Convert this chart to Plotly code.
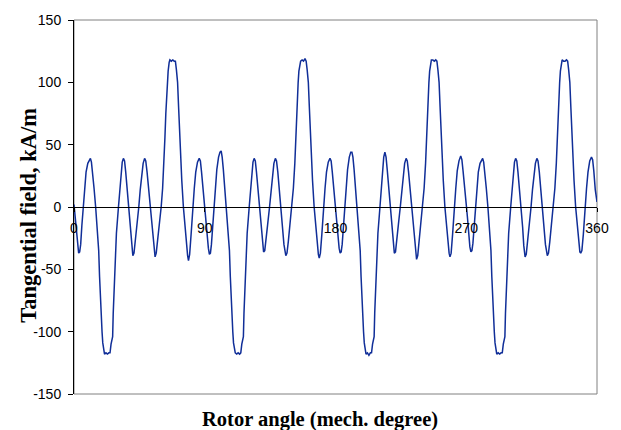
import plotly.graph_objects as go

# ---- Data (rotor angle in mech. degrees, field in kA/m) ----
angle_000_090 = [
    0, 0.8, 1.6, 2.5, 3.2, 3.9, 4.6, 5.4, 6.3,
    7.3, 8.3, 9.5, 10.5, 11.3, 12.0, 12.8, 13.8, 14.9,
    16.0, 17.0, 17.6, 18.2, 18.7, 19.3, 19.8, 20.5, 21.0, 22.0, 23.0, 24.0, 24.8, 25.5, 26.6, 27.0, 27.7, 28.5, 29.2, 30.6,
    31.5, 32.3, 33.2, 34.0, 34.8, 35.6, 36.6, 37.8,
    38.8, 39.6, 40.5, 41.3, 42.2, 43.3, 44.6,
    45.6, 46.6, 47.6, 48.6, 49.4, 50.3, 51.4, 52.5,
    53.5, 54.5, 55.8, 56.6, 57.5, 58.8, 60.0,
    61.0, 62.0, 62.6, 63.2, 63.7, 64.3, 64.8, 65.5, 66.0, 67.0, 68.0, 69.0, 69.8, 70.5, 71.3, 72.0, 72.7, 73.5, 74.2, 75.3,
    76.3, 77.3, 78.2, 78.8, 79.6, 80.6, 81.7,
    82.8, 83.8, 85.0, 86.2, 87.0, 87.8, 88.8,
]
field_000_090 = [
    2, -8, -22, -33, -37, -36, -30, -15, 0,
    15, 28, 35, 38, 39, 36, 28, 15, 0,
    -15, -35, -56, -75, -88, -100, -109, -116, -118, -117, -118, -117, -117, -110, -104, -85, -59, -38, -21, 0,
    15, 28, 36, 39, 37, 28, 15, 0,
    -16, -30, -39, -37, -28, -14, 0,
    14, 27, 35, 39, 37, 28, 14, 0,
    -15, -30, -40, -37, -28, -12, 0,
    15, 35, 56, 75, 88, 100, 109, 116, 118, 117, 118, 117, 117, 110, 100, 80, 59, 38, 21, 0,
    -15, -30, -39, -43, -38, -22, 0,
    15, 28, 36, 39, 37, 28, 14,
]

angle_090_180 = [
    90, 90.8, 91.6, 92.5, 93.2, 93.9, 94.6, 95.4, 96.3,
    97.3, 98.3, 99.5, 100.5, 101.3, 102.0, 102.8, 103.8, 104.9,
    106.0, 107.0, 107.6, 108.2, 108.7, 109.3, 109.8, 110.5, 111.0, 112.0, 113.0, 114.0, 114.8, 115.5, 116.6, 117.0, 117.7, 118.5, 119.2, 120.6,
    121.5, 122.3, 123.2, 124.0, 124.8, 125.6, 126.6, 127.8,
    128.8, 129.6, 130.5, 131.3, 132.2, 133.3, 134.6,
    135.6, 136.6, 137.6, 138.6, 139.4, 140.3, 141.4, 142.5,
    143.5, 144.5, 145.8, 146.6, 147.5, 148.8, 150.0,
    151.0, 152.0, 152.6, 153.2, 153.7, 154.3, 154.8, 155.5, 156.0, 157.0, 158.0, 159.0, 159.8, 160.5, 161.3, 162.0, 162.7, 163.5, 164.2, 165.3,
    166.3, 167.3, 168.2, 168.8, 169.6, 170.6, 171.7,
    172.8, 173.8, 175.0, 176.2, 177.0, 177.8, 178.8,
]
field_090_180 = [
    2, -8, -22, -33, -38, -37, -30, -15, 0,
    16, 30, 40, 44, 45, 40, 30, 16, 0,
    -15, -35, -56, -75, -88, -100, -109, -116, -117, -118, -117, -118, -117, -110, -104, -85, -59, -38, -21, 0,
    15, 28, 36, 39, 37, 28, 15, 0,
    -15, -28, -36, -35, -27, -14, 0,
    14, 27, 35, 39, 37, 28, 14, 0,
    -15, -30, -39, -37, -28, -12, 0,
    15, 35, 56, 75, 88, 100, 109, 116, 117, 118, 117, 119, 117, 110, 100, 80, 59, 38, 21, 0,
    -15, -30, -38, -41, -37, -22, 0,
    15, 28, 36, 39, 37, 28, 14,
]

angle_180_270 = [
    180, 180.8, 181.6, 182.5, 183.2, 183.9, 184.6, 185.4, 186.3,
    187.3, 188.3, 189.5, 190.5, 191.3, 192.0, 192.8, 193.8, 194.9,
    196.0, 197.0, 197.6, 198.2, 198.7, 199.3, 199.8, 200.5, 201.0, 202.0, 203.0, 204.0, 204.8, 205.5, 206.6, 207.0, 207.7, 208.5, 209.2, 210.6,
    211.5, 212.3, 213.2, 214.0, 214.8, 215.6, 216.6, 217.8,
    218.8, 219.6, 220.5, 221.3, 222.2, 223.3, 224.6,
    225.6, 226.6, 227.6, 228.6, 229.4, 230.3, 231.4, 232.5,
    233.5, 234.5, 235.8, 236.6, 237.5, 238.8, 240.0,
    241.0, 242.0, 242.6, 243.2, 243.7, 244.3, 244.8, 245.5, 246.0, 247.0, 248.0, 249.0, 249.8, 250.5, 251.3, 252.0, 252.7, 253.5, 254.2, 255.3,
    256.3, 257.3, 258.2, 258.8, 259.6, 260.6, 261.7,
    262.8, 263.8, 265.0, 266.2, 267.0, 267.8, 268.8,
]
field_180_270 = [
    2, -8, -22, -33, -37, -36, -30, -15, 0,
    16, 30, 40, 44, 44, 40, 30, 16, 0,
    -15, -35, -56, -75, -88, -100, -109, -116, -118, -117, -119, -117, -117, -110, -104, -85, -59, -38, -21, 0,
    16, 30, 40, 44, 40, 30, 16, 0,
    -16, -30, -37, -36, -28, -14, 0,
    14, 27, 35, 39, 37, 28, 14, 0,
    -16, -32, -42, -39, -29, -12, 0,
    15, 35, 56, 75, 88, 100, 109, 116, 118, 118, 117, 118, 117, 110, 100, 80, 59, 38, 21, 0,
    -15, -30, -37, -40, -37, -22, 0,
    15, 29, 37, 41, 38, 29, 14,
]

angle_270_360 = [
    270, 270.8, 271.6, 272.5, 273.2, 273.9, 274.6, 275.4, 276.3,
    277.3, 278.3, 279.5, 280.5, 281.3, 282.0, 282.8, 283.8, 284.9,
    286.0, 287.0, 287.6, 288.2, 288.7, 289.3, 289.8, 290.5, 291.0, 292.0, 293.0, 294.0, 294.8, 295.5, 296.6, 297.0, 297.7, 298.5, 299.2, 300.6,
    301.5, 302.3, 303.2, 304.0, 304.8, 305.6, 306.6, 307.8,
    308.8, 309.6, 310.5, 311.3, 312.2, 313.3, 314.6,
    315.6, 316.6, 317.6, 318.6, 319.4, 320.3, 321.4, 322.5,
    323.5, 324.5, 325.8, 326.6, 327.5, 328.8, 330.0,
    331.0, 332.0, 332.6, 333.2, 333.7, 334.3, 334.8, 335.5, 336.0, 337.0, 338.0, 339.0, 339.8, 340.5, 341.3, 342.0, 342.7, 343.5, 344.2, 345.3,
    346.3, 347.3, 348.2, 348.8, 349.6, 350.6, 351.7,
    352.8, 353.8, 355.0, 356.2, 357.0, 357.8, 358.8, 360.0,
]
field_270_360 = [
    2, -8, -22, -32, -36, -35, -29, -15, 0,
    15, 28, 35, 38, 39, 36, 28, 15, 0,
    -15, -35, -56, -75, -88, -100, -109, -116, -118, -117, -118, -117, -117, -110, -104, -85, -59, -38, -21, 0,
    15, 28, 36, 39, 37, 28, 15, 0,
    -16, -31, -40, -38, -29, -14, 0,
    14, 27, 35, 39, 37, 28, 14, 0,
    -15, -30, -39, -37, -28, -12, 0,
    15, 35, 56, 75, 88, 100, 109, 116, 118, 117, 117, 118, 117, 110, 100, 80, 59, 38, 21, 0,
    -15, -29, -36, -37, -35, -22, 0,
    15, 28, 37, 40, 38, 29, 14, 4,
]

x_ticks = [0, 90, 180, 270, 360]
x_tick_labels = ["0", "90", "180", "270", "360"]
y_ticks = [-150, -100, -50, 0, 50, 100, 150]
y_tick_labels = ["-150", "-100", "-50", "0", "50", "100", "150"]

x_title = "Rotor angle (mech. degree)"
y_title = "Tangential field, kA/m"

angles = angle_000_090 + angle_090_180 + angle_180_270 + angle_270_360
fields = field_000_090 + field_090_180 + field_180_270 + field_270_360

fig = go.Figure()
fig.add_trace(go.Scatter(
    x=angles, y=fields, mode="lines",
    line=dict(color="#102e98", width=1.5),
    showlegend=False, hoverinfo="skip",
))

tick_font = dict(family="Liberation Sans, Arial, sans-serif", size=14, color="#000000")
x_title_font = dict(family="Liberation Serif, Times New Roman, serif", size=20.5, color="#000000")
y_title_font = dict(family="Liberation Serif, Times New Roman, serif", size=22.5, color="#000000")

fig.update_layout(
    width=621, height=430,
    margin=dict(l=74, r=14, t=18, b=36),
    paper_bgcolor="white", plot_bgcolor="white",
    xaxis=dict(
        range=[0, 360], tickvals=x_ticks, ticktext=x_tick_labels,
        showgrid=False, zeroline=False,
        showline=True, linecolor="black", linewidth=1,
        ticks="outside", ticklen=4, tickcolor="black",
        anchor="free", position=0.5,
        tickfont=tick_font, ticklabelstandoff=4,
    ),
    yaxis=dict(
        range=[-150, 150], tickvals=y_ticks, ticktext=y_tick_labels,
        showgrid=False, zeroline=False,
        showline=True, linecolor="black", linewidth=1,
        ticks="outside", ticklen=5, tickcolor="black",
        tickfont=tick_font, ticklabelstandoff=4,
    ),
    shapes=[dict(type="rect", xref="paper", yref="paper", x0=0, x1=1, y0=0, y1=1,
                 line=dict(color="#808080", width=1), layer="below")],
    annotations=[
        dict(text=f"<b>{x_title}</b>", xref="paper", yref="paper",
             x=0.471, y=-0.069, showarrow=False, font=x_title_font,
             xanchor="center", yanchor="middle"),
        dict(text=f"<b>{y_title}</b>", xref="paper", yref="paper",
             x=-0.0863, y=0.479, showarrow=False, font=y_title_font, textangle=-90,
             xanchor="center", yanchor="middle"),
    ],
)

fig.write_html("out.html")
